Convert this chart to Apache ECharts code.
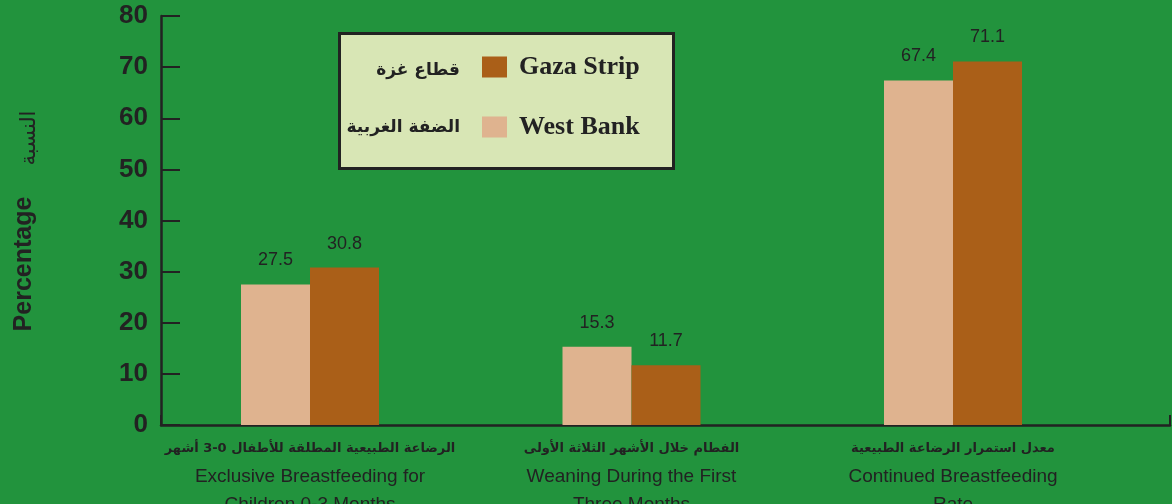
<!DOCTYPE html>
<html><head><meta charset="utf-8">
<script src="https://cdn.jsdelivr.net/npm/echarts@6/dist/echarts.min.js"></script>
<style>html,body{margin:0;padding:0;background:#22933d;}#c{width:1172px;height:504px;}</style>
</head><body><div id="c"></div>
<script>
const categoriesAr = ['الرضاعة الطبيعية المطلقة للأطفال 0-3 أشهر', 'الفطام خلال الأشهر الثلاثة الأولى', 'معدل استمرار الرضاعة الطبيعية'];
const categoriesEn = ['Exclusive Breastfeeding for\nChildren 0-3 Months', 'Weaning During the First\nThree Months', 'Continued Breastfeeding\nRate'];
const westBank = [27.5, 15.3, 67.4];
const gazaStrip = [30.8, 11.7, 71.1];
const yTicks = {min: 0, max: 80, interval: 10};
const seriesNames = ['West Bank', 'Gaza Strip'];
const seriesNamesAr = {'West Bank': 'الضفة الغربية', 'Gaza Strip': 'قطاع غزة'};
const yNameEn = 'Percentage';
const yNameAr = 'النسبة';

const ink = '#222222';
const chart = echarts.init(document.getElementById('c'), null, {renderer: 'canvas'});
const catKeys = categoriesEn.map((e, i) => String(i));
chart.setOption({
  backgroundColor: '#22933d',
  animation: false,
  grid: [
    {left: 149.25, right: 58.25, top: 16, bottom: 79, outerBoundsMode: 'none', containLabel: false},
    {left: 161, right: 2, top: 16, bottom: 79, outerBoundsMode: 'none', containLabel: false}
  ],
  legend: {
    data: [seriesNames[1], seriesNames[0]],
    orient: 'vertical', left: 477, top: 49,
    itemWidth: 25, itemHeight: 21, itemGap: 34,
    icon: 'rect',
    textStyle: {fontFamily: 'Liberation Serif', fontWeight: 'bold', fontSize: 26, color: ink, lineHeight: 21, padding: [0, 0, 0, 7]},
    selectedMode: false, z: 10
  },
  graphic: [
    {type: 'rect', left: 338, top: 32, z: 1, shape: {width: 334, height: 135}, style: {fill: '#d8e6b5', stroke: ink, lineWidth: 3}},
    {type: 'text', z: 5, style: {x: 460, y: 71, text: seriesNamesAr[seriesNames[1]], align: 'right', verticalAlign: 'middle', font: 'bold 17px "DejaVu Sans"', fill: ink}},
    {type: 'text', z: 5, style: {x: 460, y: 128, text: seriesNamesAr[seriesNames[0]], align: 'right', verticalAlign: 'middle', font: 'bold 17px "DejaVu Sans"', fill: ink}},
    {type: 'text', z: 5, x: 24, y: 264, rotation: Math.PI / 2, style: {x: 0, y: 0, text: yNameEn, align: 'center', verticalAlign: 'middle', font: 'bold 25px "Liberation Sans"', fill: ink}},
    {type: 'text', z: 5, x: 30, y: 138, rotation: Math.PI / 2, style: {x: 0, y: 0, text: yNameAr, align: 'center', verticalAlign: 'middle', font: '21px "DejaVu Sans"', fill: ink}}
  ],
  xAxis: [
    {
      type: 'category', gridIndex: 0, data: catKeys,
      axisLine: {show: false}, axisTick: {show: false},
      axisLabel: {
        margin: 10, interval: 0,
        formatter: (v) => {
          const i = Number(v);
          const en = categoriesEn[i].split('\n').map(s => '{en|' + s + '}').join('\n');
          return '{ar|' + categoriesAr[i] + '}\n' + en;
        },
        rich: {
          ar: {fontFamily: 'DejaVu Sans', fontWeight: 'bold', fontSize: 13, color: ink, lineHeight: 28, align: 'center'},
          en: {fontFamily: 'Liberation Sans', fontSize: 19, color: ink, lineHeight: 28, align: 'center'}
        }
      }
    },
    {
      type: 'value', gridIndex: 1, min: 0, max: 1, interval: 1,
      axisLine: {show: true, lineStyle: {color: ink, width: 2.5}},
      axisTick: {show: true, inside: true, length: 10, lineStyle: {color: ink, width: 2}},
      axisLabel: {show: false}, splitLine: {show: false}
    }
  ],
  yAxis: [
    {type: 'value', gridIndex: 0, min: yTicks.min, max: yTicks.max, interval: yTicks.interval, show: false},
    {
      type: 'value', gridIndex: 1, min: yTicks.min, max: yTicks.max, interval: yTicks.interval,
      axisLine: {show: true, lineStyle: {color: ink, width: 2.5}},
      axisTick: {show: true, inside: true, length: 19, lineStyle: {color: ink, width: 2}},
      axisLabel: {margin: 13, fontFamily: 'Liberation Sans', fontWeight: 'bold', fontSize: 26, color: ink},
      splitLine: {show: false}
    }
  ],
  series: [
    {
      name: seriesNames[0], type: 'bar', xAxisIndex: 0, yAxisIndex: 0, data: westBank,
      barWidth: 69, barGap: '0%', itemStyle: {color: '#dfb38f'},
      label: {show: true, position: 'top', distance: 15, fontFamily: 'Liberation Sans', fontSize: 18, color: ink}
    },
    {
      name: seriesNames[1], type: 'bar', xAxisIndex: 0, yAxisIndex: 0, data: gazaStrip,
      barWidth: 69, barGap: '0%', itemStyle: {color: '#aa5f18'},
      label: {show: true, position: 'top', distance: 15, fontFamily: 'Liberation Sans', fontSize: 18, color: ink}
    }
  ]
});
</script></body></html>
